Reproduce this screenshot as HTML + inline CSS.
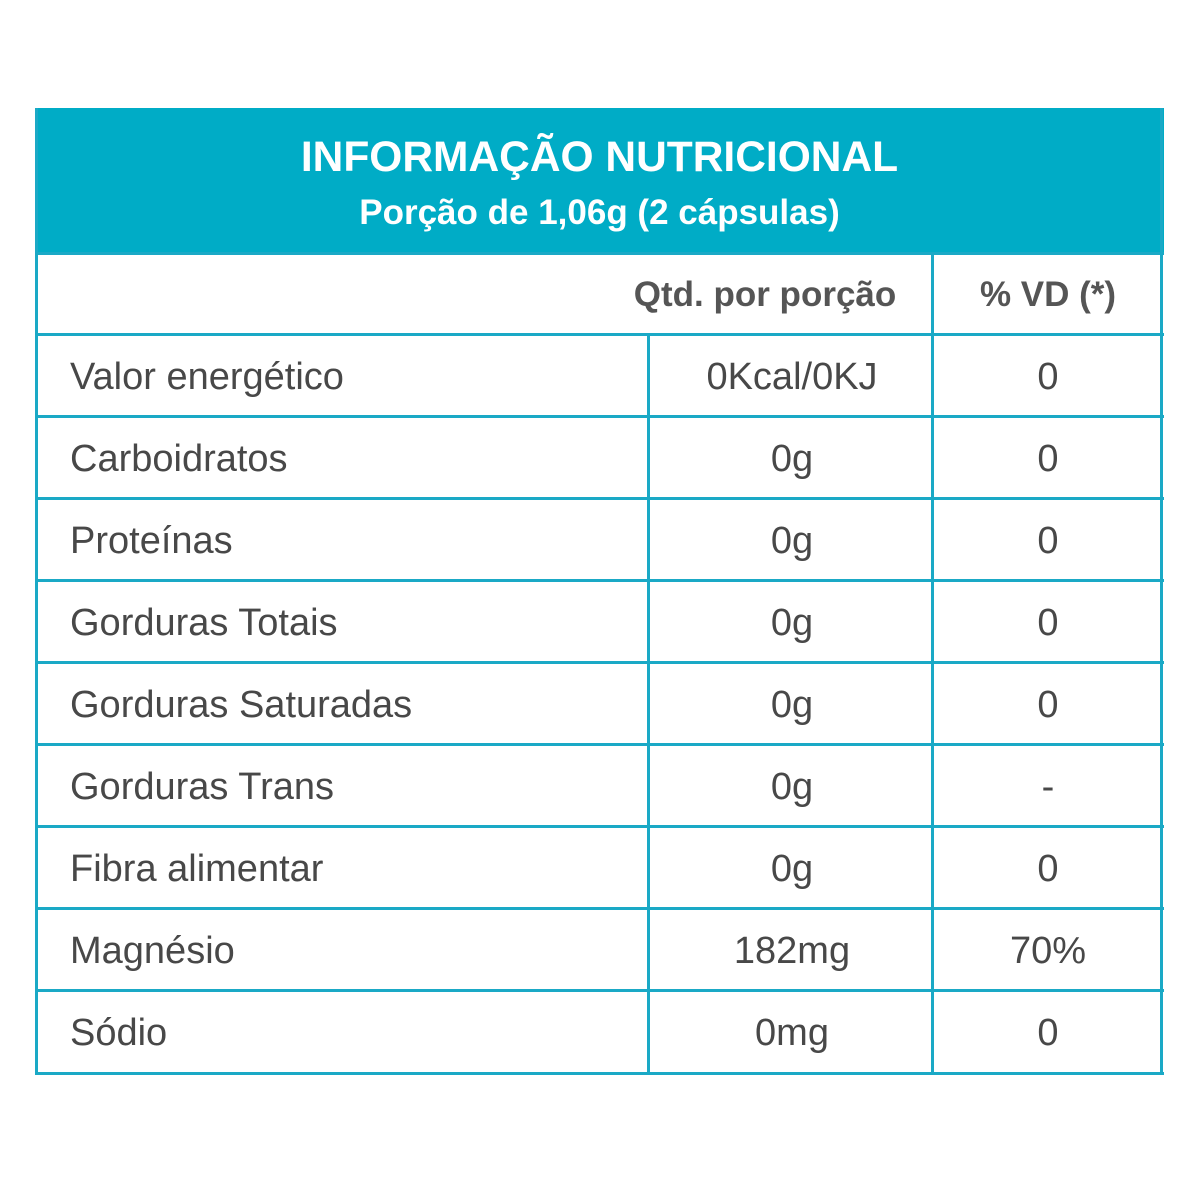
<!DOCTYPE html>
<html><head><meta charset="utf-8"><style>
body{margin:0;width:1200px;height:1200px;background:#fff;position:relative;font-family:"Liberation Sans",sans-serif;overflow:hidden}
.h{position:absolute;left:35px;top:108px;width:1129px;height:146px;background:#00acc6}
.t{position:absolute;left:35px;width:1129px;text-align:center;color:#fff;font-weight:bold}
.hl{position:absolute;left:35px;width:1129px;height:3px;background:#1aa9c6}
.vl{position:absolute;width:3px;background:#1aa9c6}
.c{position:absolute;color:#484848;font-size:38px;line-height:82px;height:82px;white-space:nowrap}
.l{left:70px}
.m{left:651px;width:282px;text-align:center}
.r{left:935px;width:226px;text-align:center}
.b{font-weight:bold;color:#555}
</style></head><body>
<div class="h"></div>
<div class="t" style="top:134px;font-size:42.5px">INFORMAÇÃO NUTRICIONAL</div>
<div class="t" style="top:193px;font-size:35px">Porção de 1,06g (2 cápsulas)</div>
<div class="vl" style="left:35px;top:108px;height:967px"></div>
<div class="vl" style="left:1160px;top:108px;height:967px"></div>
<div class="vl" style="left:931px;top:253px;height:822px"></div>
<div class="vl" style="left:647px;top:334px;height:741px"></div>
<div class="hl" style="top:252px"></div>
<div class="hl" style="top:333px"></div>
<div class="hl" style="top:415px"></div>
<div class="hl" style="top:497px"></div>
<div class="hl" style="top:579px"></div>
<div class="hl" style="top:661px"></div>
<div class="hl" style="top:743px"></div>
<div class="hl" style="top:825px"></div>
<div class="hl" style="top:907px"></div>
<div class="hl" style="top:989px"></div>
<div class="hl" style="top:1072px"></div>
<div class="c b" style="top:254px;left:600px;width:330px;text-align:center;font-size:35px">Qtd. por porção</div>
<div class="c b r" style="top:254px;font-size:35px">% VD (*)</div>
<div class="c l" style="top:336px">Valor energético</div><div class="c m" style="top:336px">0Kcal/0KJ</div><div class="c r" style="top:336px">0</div>
<div class="c l" style="top:418px">Carboidratos</div><div class="c m" style="top:418px">0g</div><div class="c r" style="top:418px">0</div>
<div class="c l" style="top:500px">Proteínas</div><div class="c m" style="top:500px">0g</div><div class="c r" style="top:500px">0</div>
<div class="c l" style="top:582px">Gorduras Totais</div><div class="c m" style="top:582px">0g</div><div class="c r" style="top:582px">0</div>
<div class="c l" style="top:664px">Gorduras Saturadas</div><div class="c m" style="top:664px">0g</div><div class="c r" style="top:664px">0</div>
<div class="c l" style="top:746px">Gorduras Trans</div><div class="c m" style="top:746px">0g</div><div class="c r" style="top:746px">-</div>
<div class="c l" style="top:828px">Fibra alimentar</div><div class="c m" style="top:828px">0g</div><div class="c r" style="top:828px">0</div>
<div class="c l" style="top:910px">Magnésio</div><div class="c m" style="top:910px">182mg</div><div class="c r" style="top:910px">70%</div>
<div class="c l" style="top:992px">Sódio</div><div class="c m" style="top:992px">0mg</div><div class="c r" style="top:992px">0</div>
</body></html>
